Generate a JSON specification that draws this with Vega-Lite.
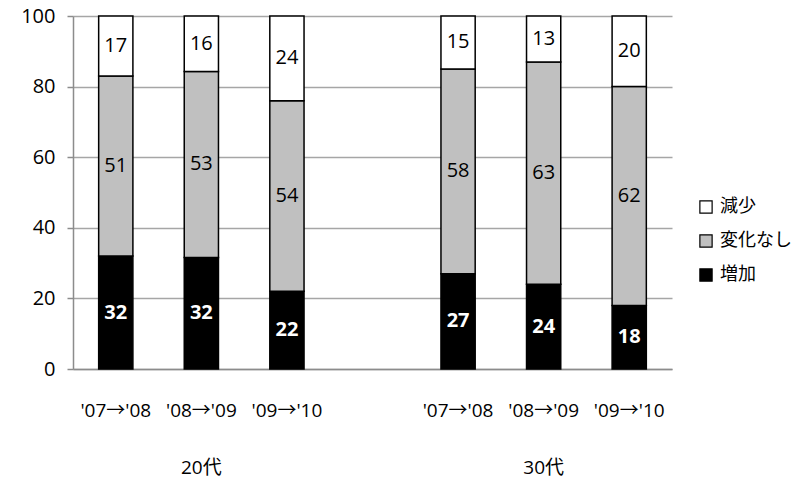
{
  "$schema": "https://vega.github.io/schema/vega-lite/v6.json",
  "width": 599,
  "height": 353,
  "autosize": {"type": "none"},
  "padding": {"left": 73, "top": 16, "right": 138, "bottom": 111},
  "background": "white",
  "config": {
    "view": {"stroke": null},
    "font": "Open Sans, Noto Sans CJK JP, DejaVu Sans, sans-serif"
  },
  "datasets": {
    "bars": [
      {"key": "20代|'07→'08", "type": "増加", "order": 1, "value": 32},
      {"key": "20代|'07→'08", "type": "変化なし", "order": 2, "value": 51},
      {"key": "20代|'07→'08", "type": "減少", "order": 3, "value": 17},
      {"key": "20代|'08→'09", "type": "増加", "order": 1, "value": 31.6},
      {"key": "20代|'08→'09", "type": "変化なし", "order": 2, "value": 52.7},
      {"key": "20代|'08→'09", "type": "減少", "order": 3, "value": 15.7},
      {"key": "20代|'09→'10", "type": "増加", "order": 1, "value": 22},
      {"key": "20代|'09→'10", "type": "変化なし", "order": 2, "value": 54},
      {"key": "20代|'09→'10", "type": "減少", "order": 3, "value": 24},
      {"key": "30代|'07→'08", "type": "増加", "order": 1, "value": 27},
      {"key": "30代|'07→'08", "type": "変化なし", "order": 2, "value": 58},
      {"key": "30代|'07→'08", "type": "減少", "order": 3, "value": 15},
      {"key": "30代|'08→'09", "type": "増加", "order": 1, "value": 24},
      {"key": "30代|'08→'09", "type": "変化なし", "order": 2, "value": 63},
      {"key": "30代|'08→'09", "type": "減少", "order": 3, "value": 13},
      {"key": "30代|'09→'10", "type": "増加", "order": 1, "value": 18},
      {"key": "30代|'09→'10", "type": "変化なし", "order": 2, "value": 62},
      {"key": "30代|'09→'10", "type": "減少", "order": 3, "value": 20}
    ],
    "groups": [
      {"key": "20代|'08→'09", "group": "20代"},
      {"key": "30代|'08→'09", "group": "30代"}
    ]
  },
  "layer": [
    {
      "data": {"name": "bars"},
      "mark": {"type": "bar", "stroke": "black", "strokeWidth": 1.5},
      "encoding": {
        "x": {
          "field": "key",
          "type": "nominal",
          "sort": null,
          "scale": {
            "domain": ["20代|'07→'08", "20代|'08→'09", "20代|'09→'10", "gap|", "30代|'07→'08", "30代|'08→'09", "30代|'09→'10"],
            "paddingInner": 0.6,
            "paddingOuter": 0.3
          },
          "axis": {
            "title": null,
            "labelExpr": "split(datum.value, '|')[1]",
            "labelAngle": 0,
            "ticks": false,
            "domainColor": "#8c8c8c",
            "domainWidth": 1.5,
            "labelPadding": 32,
            "labelFontSize": 19,
            "labelColor": "black"
          }
        },
        "y": {
          "field": "value",
          "type": "quantitative",
          "stack": "zero",
          "scale": {"domain": [0, 100]},
          "axis": {
            "title": null,
            "values": [0, 20, 40, 60, 80, 100],
            "grid": true,
            "gridColor": "#a6a6a6",
            "gridWidth": 1.5,
            "domainColor": "#8c8c8c",
            "domainWidth": 1.5,
            "tickColor": "#8c8c8c",
            "tickWidth": 1.5,
            "tickSize": 6,
            "labelFontSize": 20,
            "labelPadding": 12,
            "labelColor": "black"
          }
        },
        "order": {"field": "order", "type": "quantitative"},
        "color": {
          "field": "type",
          "type": "nominal",
          "scale": {"domain": ["減少", "変化なし", "増加"], "range": ["#ffffff", "#c0c0c0", "#000000"]},
          "legend": {
            "title": null,
            "orient": "none",
            "legendX": 624,
            "legendY": 182,
            "symbolType": "square",
            "symbolSize": 150,
            "symbolStrokeColor": "black",
            "symbolStrokeWidth": 1.2,
            "labelFontSize": 18,
            "labelColor": "black",
            "labelOffset": 5,
            "rowPadding": 16
          }
        }
      }
    },
    {
      "data": {"name": "bars"},
      "transform": [
        {"stack": "value", "groupby": ["key"], "sort": [{"field": "order"}], "as": ["y0", "y1"]},
        {"calculate": "(datum.y0 + datum.y1) / 2", "as": "mid"},
        {"filter": "datum.type === '増加'"}
      ],
      "mark": {"type": "text", "color": "white", "fontWeight": "bold", "fontSize": 20, "baseline": "middle"},
      "encoding": {
        "x": {"field": "key", "type": "nominal", "sort": null},
        "y": {"field": "mid", "type": "quantitative"},
        "text": {"field": "value", "type": "quantitative", "format": ".0f"}
      }
    },
    {
      "data": {"name": "bars"},
      "transform": [
        {"stack": "value", "groupby": ["key"], "sort": [{"field": "order"}], "as": ["y0", "y1"]},
        {"calculate": "(datum.y0 + datum.y1) / 2", "as": "mid"},
        {"filter": "datum.type !== '増加'"}
      ],
      "mark": {"type": "text", "color": "black", "fontSize": 20, "baseline": "middle"},
      "encoding": {
        "x": {"field": "key", "type": "nominal", "sort": null},
        "y": {"field": "mid", "type": "quantitative"},
        "text": {"field": "value", "type": "quantitative", "format": ".0f"}
      }
    },
    {
      "data": {"name": "groups"},
      "mark": {"type": "text", "color": "black", "fontSize": 19, "baseline": "middle"},
      "encoding": {
        "x": {"field": "key", "type": "nominal", "sort": null},
        "y": {"datum": -28, "type": "quantitative"},
        "text": {"field": "group", "type": "nominal"}
      }
    }
  ]
}
